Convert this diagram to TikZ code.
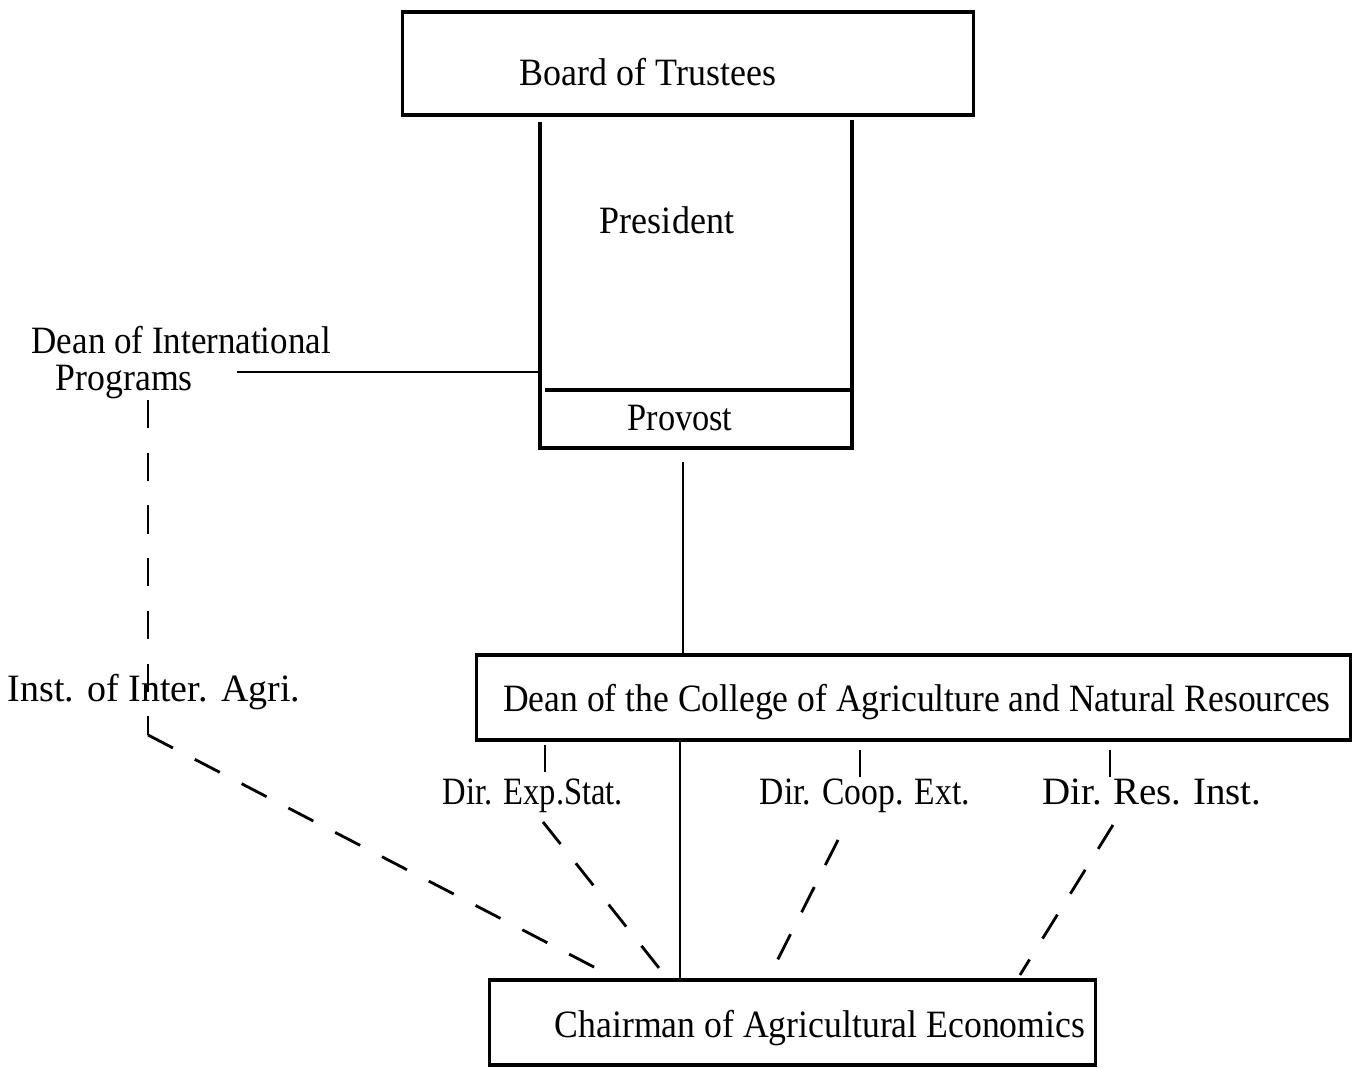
\documentclass[tikz,border=0pt]{standalone}
\usepackage{fontspec}
\setmainfont{Liberation Serif}
\usepackage{graphicx}
\newcommand{\fw}[2]{\resizebox{#1}{\height}{#2}}
\begin{document}
\begin{tikzpicture}[x=0.01cm,y=-0.01cm,
  lbl/.style={inner sep=0pt,font=\fontsize{11}{13}\selectfont},
  boxline/.style={line width=0.9pt},
  conn/.style={line width=0.8pt},
  dsh/.style={line width=0.8pt,dash pattern=on 8pt off 7pt}]
\useasboundingbox (0,0) rectangle (1356,1068);
% Board of Trustees
\node[draw,boxline,minimum width=5.70cm,minimum height=1.03cm] (board) at (688,63.5) {};
\node[lbl] (boardT) at (648,72) {\fw{2.56cm}{Board of Trustees}};
% President / Provost
\coordinate (presTL) at (540,122);
\coordinate (presTR) at (852,120);
\coordinate (presBL) at (540,448);
\coordinate (presBR) at (852,448);
\coordinate (sepL) at (545,390);
\coordinate (sepR) at (852,390);
\draw[boxline] (presTL) -- (presBL) -- (presBR) -- (presTR);
\draw[boxline] (sepL) -- (sepR);
\node[lbl] (pres) at (667,220) {\fw{1.34cm}{President}};
\node[lbl] (prov) at (680,418) {\fw{1.05cm}{Provost}};
% Dean of International Programs
\node[lbl,align=left,anchor=north west] (dip) at (31,326) {\fw{2.99cm}{Dean of International}\\[-2.5pt]\hspace*{0.24cm}\fw{1.37cm}{Programs}};
\coordinate (dipE) at (237,372);
\coordinate (presW) at (540,372);
\draw[conn] (dipE) -- (presW);
% Inst of Inter Agri
\node[lbl] (inst) at (154,692) {\fw{2.92cm}{Inst.\hspace{0.35em}of Inter.\hspace{0.35em}Agri.}};
\coordinate (dipS) at (148,400);
\coordinate (instS) at (148,735);
\draw[dsh] (dipS) -- (instS);
% Dean of the College
\node[draw,boxline,minimum width=8.73cm,minimum height=0.85cm] (dean) at (913.5,697.5) {};
\node[lbl] (deanT) at (917,702) {\fw{8.27cm}{Dean of the College of Agriculture and Natural Resources}};
\coordinate (provS) at (683,462);
\coordinate (deanN) at (683,655);
\draw[conn] (provS) -- (deanN);
% Chairman
\node[draw,boxline,minimum width=6.05cm,minimum height=0.85cm] (chair) at (792.5,1022.5) {};
\node[lbl] (chairT) at (820,1028) {\fw{5.30cm}{Chairman of Agricultural Economics}};
\coordinate (deanS) at (680,740);
\coordinate (chairN) at (680,980);
\draw[conn] (deanS) -- (chairN);
% Directors
\node[lbl,anchor=base] (exp) at (533,805) {\fw{1.80cm}{Dir. Exp.Stat.}};
\node[lbl,anchor=base] (coop) at (865,805) {\fw{2.10cm}{Dir. Coop. Ext.}};
\node[lbl,anchor=base] (res) at (1152,805) {\fw{2.19cm}{Dir.\hspace{0.3em}Res.\hspace{0.3em}Inst.}};
\draw[conn] (545,745) -- (545,772);
\draw[conn] (860,750) -- (860,777);
\draw[conn] (1110,750) -- (1110,777);
\coordinate (expS) at (543,822);
\coordinate (coopS) at (838,840);
\coordinate (resS) at (1113,825);
\coordinate (chExp) at (667,978);
\coordinate (chCoop) at (770,975);
\coordinate (chRes) at (1020,975);
\coordinate (chInst) at (615,978);
\draw[dsh] (expS) -- (chExp);
\draw[dsh] (coopS) -- (chCoop);
\draw[dsh] (resS) -- (chRes);
\draw[dsh] (instS) -- (chInst);
\end{tikzpicture}
\end{document}
